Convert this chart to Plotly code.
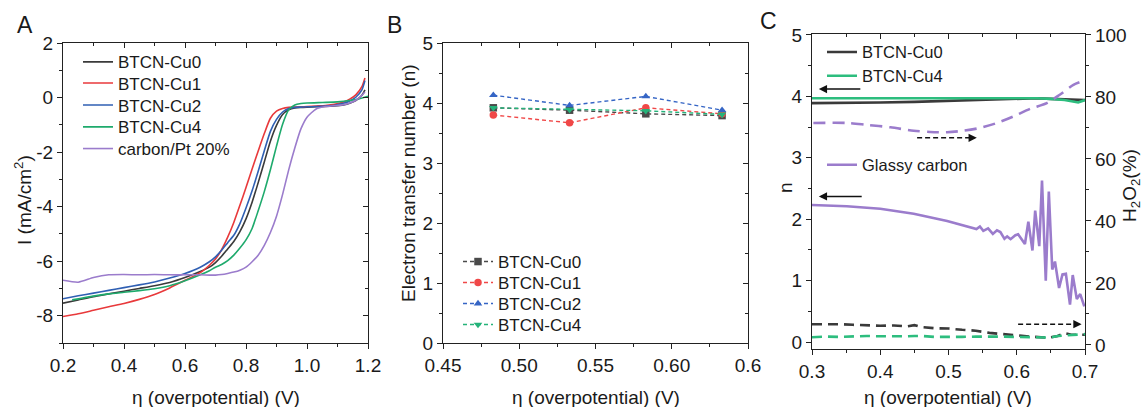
import plotly.graph_objects as go

W, H = 1143, 407
FONT = "Liberation Sans, Arial, sans-serif"
TXT = "#1a1a1a"
AX = "#222222"

# ---------------- Panel A: LSV curves ----------------
eta_A = [0.20, 0.25, 0.30, 0.35, 0.40, 0.45, 0.50, 0.55, 0.60, 0.65, 0.68, 0.70,
         0.72, 0.74, 0.76, 0.78, 0.80, 0.82, 0.84, 0.86, 0.88, 0.90, 0.92, 0.94,
         0.96, 0.98, 1.00, 1.03, 1.06, 1.09, 1.12, 1.14, 1.16, 1.18, 1.19]
I_cu0 = [-7.54, -7.42, -7.30, -7.20, -7.10, -7.00, -6.90, -6.78, -6.60, -6.38, -6.22, -6.05,
         -5.82, -5.55, -5.28, -4.92, -4.45, -3.84, -3.12, -2.36, -1.60, -1.02, -0.62, -0.45,
         -0.38, -0.36, -0.35, -0.34, -0.33, -0.31, -0.27, -0.21, -0.11, 0.08, 0.28]
I_cu1 = [-8.03, -7.93, -7.80, -7.67, -7.55, -7.40, -7.22, -6.98, -6.70, -6.42, -6.15, -5.92,
         -5.58, -5.12, -4.58, -3.95, -3.30, -2.62, -1.96, -1.32, -0.76, -0.50, -0.40, -0.36,
         -0.35, -0.34, -0.33, -0.31, -0.29, -0.25, -0.16, -0.06, 0.10, 0.40, 0.72]
I_cu2 = [-7.38, -7.27, -7.17, -7.07, -6.97, -6.87, -6.76, -6.62, -6.45, -6.22, -6.02, -5.84,
         -5.60, -5.32, -5.05, -4.62, -4.05, -3.42, -2.70, -1.95, -1.24, -0.80, -0.53, -0.40,
         -0.36, -0.35, -0.34, -0.33, -0.31, -0.28, -0.21, -0.13, 0.01, 0.28, 0.62]
I_pt = [-6.70, -6.77, -6.60, -6.50, -6.49, -6.50, -6.49, -6.50, -6.50, -6.50, -6.51, -6.51,
        -6.49, -6.45, -6.40, -6.33, -6.22, -6.02, -5.78, -5.42, -4.95, -4.35, -3.55, -2.65,
        -1.85, -1.15, -0.72, -0.42, -0.33, -0.30, -0.26, -0.20, -0.10, 0.08, 0.20]
eta_A_cu4 = [0.23, 0.30, 0.35, 0.40, 0.45, 0.50, 0.55, 0.60, 0.65, 0.68, 0.70, 0.72, 0.74,
             0.76, 0.78, 0.80, 0.82, 0.84, 0.86, 0.88, 0.90, 0.92, 0.94, 0.96, 0.98, 1.00,
             1.05, 1.10, 1.14, 1.17, 1.20]
I_cu4 = [-7.42, -7.28, -7.20, -7.14, -7.08, -7.01, -6.90, -6.72, -6.50, -6.35, -6.22, -6.12,
         -5.98, -5.78, -5.52, -5.22, -4.80, -4.15, -3.45, -2.65, -1.78, -0.98, -0.45, -0.27,
         -0.22, -0.20, -0.18, -0.16, -0.11, -0.05, 0.05]
A_yticks = [2, 0, -2, -4, -6, -8]
A_yticklabels = ["2", "0", "-2", "-4", "-6", "-8"]

# ---------------- Panel B: electron transfer number ----------------
eta_B = [0.483, 0.533, 0.583, 0.633]
nB_cu0 = [3.92, 3.88, 3.82, 3.79]
nB_cu1 = [3.80, 3.67, 3.92, 3.82]
nB_cu2 = [4.13, 3.96, 4.11, 3.88]
nB_cu4 = [3.92, 3.89, 3.87, 3.81]
B_xticks = [0.45, 0.50, 0.55, 0.60, 0.65]
B_xticklabels = ["0.45", "0.50", "0.55", "0.60", "0.6"]

# ---------------- Panel C: RRDE n and H2O2 ----------------
eta_C = [0.30, 0.35, 0.40, 0.45, 0.50, 0.55, 0.60, 0.63, 0.65, 0.67, 0.69, 0.70]
nC_cu0 = [3.89, 3.89, 3.90, 3.91, 3.93, 3.94, 3.96, 3.97, 3.96, 3.95, 3.95, 3.94]
nC_cu4 = [3.97, 3.97, 3.97, 3.97, 3.98, 3.97, 3.97, 3.97, 3.96, 3.94, 3.90, 3.94]
eta_gc = [0.300, 0.351, 0.400, 0.449, 0.498, 0.527, 0.541, 0.546, 0.551, 0.558, 0.565, 0.571,
          0.576, 0.582, 0.586, 0.591, 0.598, 0.602, 0.612, 0.617, 0.623, 0.627, 0.633, 0.637,
          0.6425, 0.647, 0.652, 0.656, 0.662, 0.667, 0.672, 0.678, 0.682, 0.688, 0.693, 0.699]
n_gc = [2.23, 2.21, 2.17, 2.09, 1.97, 1.89, 1.84, 1.88, 1.81, 1.85, 1.76, 1.82,
        1.79, 1.68, 1.72, 1.675, 1.74, 1.755, 1.595, 1.96, 1.49, 2.14, 1.56, 2.63,
        1.00, 2.45, 1.18, 1.31, 0.88, 1.10, 1.11, 0.61, 1.09, 0.70, 0.78, 0.58]
eta_gc_h = [0.302, 0.351, 0.380, 0.415, 0.449, 0.473, 0.498, 0.522, 0.546, 0.571, 0.595,
            0.620, 0.644, 0.663, 0.683, 0.698]
h2o2_gc = [71.6, 71.6, 71.0, 70.2, 69.1, 68.7, 68.6, 69.1, 70.0, 71.6, 73.7,
           76.2, 78.0, 80.7, 83.9, 85.2]
eta_C_h = [0.30, 0.32, 0.34, 0.36, 0.38, 0.40, 0.42, 0.44, 0.45, 0.46, 0.48, 0.50,
           0.52, 0.54, 0.56, 0.58, 0.60, 0.62, 0.64, 0.65, 0.66, 0.67, 0.68, 0.70]
h2o2_cu0 = [6.7, 6.8, 6.7, 6.5, 6.3, 6.2, 6.3, 6.0, 6.4, 5.8, 5.4, 5.3,
            4.9, 4.6, 3.9, 3.6, 3.1, 2.7, 2.4, 2.5, 2.9, 3.8, 3.3, 3.3]
h2o2_cu4 = [2.5, 2.7, 2.6, 2.8, 2.9, 2.8, 2.7, 2.8, 2.9, 2.9, 2.6, 2.5,
            2.6, 2.7, 2.8, 2.7, 2.6, 2.5, 2.3, 2.4, 2.9, 3.1, 3.2, 3.5]

# colours
C_BLK = "#3a3a3a"
C_RED = "#e8393b"
C_BLU = "#2f5fb3"
C_GRN = "#1eaa6c"
C_PUR = "#9b7ccc"
C_GRN_C = "#2dbd7e"
C_BLK_B = "#4a4a4a"
C_RED_B = "#f04848"
C_BLU_B = "#3565c5"
C_GRN_B = "#25b37a"

fig = go.Figure()

# ---- Panel A traces
A_series = [("BTCN-Cu0", eta_A, I_cu0, C_BLK), ("BTCN-Cu1", eta_A, I_cu1, C_RED),
            ("BTCN-Cu2", eta_A, I_cu2, C_BLU), ("BTCN-Cu4", eta_A_cu4, I_cu4, C_GRN),
            ("carbon/Pt 20%", eta_A, I_pt, C_PUR)]
for k, (nm, xs, ys, col) in enumerate(A_series):
    fig.add_trace(go.Scatter(x=xs, y=ys, name=nm, mode="lines", xaxis="x", yaxis="y",
                             line=dict(color=col, width=1.6, shape="spline", smoothing=0.6),
                             legend="legend" if k == 0 else f"legend{k + 1}"))

# ---- Panel B traces
B_series = [("BTCN-Cu0", nB_cu0, C_BLK_B, "square"), ("BTCN-Cu1", nB_cu1, C_RED_B, "circle"),
            ("BTCN-Cu2", nB_cu2, C_BLU_B, "triangle-up"), ("BTCN-Cu4", nB_cu4, C_GRN_B, "triangle-down")]
for k, (nm, ys, col, sym) in enumerate(B_series):
    fig.add_trace(go.Scatter(x=eta_B, y=ys, name=nm, mode="lines+markers", xaxis="x2", yaxis="y2",
                             line=dict(color=col, width=1.4, dash="4px,3px"),
                             marker=dict(symbol=sym, size=7.5, color=col),
                             legend=f"legend{k + 6}"))

# ---- Panel C traces
fig.add_trace(go.Scatter(x=eta_C, y=nC_cu0, name="BTCN-Cu0", mode="lines", xaxis="x3", yaxis="y3",
                         line=dict(color=C_BLK, width=2.6), legend="legend10"))
fig.add_trace(go.Scatter(x=eta_C, y=nC_cu4, name="BTCN-Cu4", mode="lines", xaxis="x3", yaxis="y3",
                         line=dict(color=C_GRN_C, width=2.6), legend="legend11"))
fig.add_trace(go.Scatter(x=eta_gc, y=n_gc, name="Glassy carbon", mode="lines", xaxis="x3", yaxis="y3",
                         line=dict(color=C_PUR, width=2.6), legend="legend12"))
fig.add_trace(go.Scatter(x=eta_gc_h, y=h2o2_gc, mode="lines", xaxis="x3", yaxis="y6", showlegend=False,
                         line=dict(color=C_PUR, width=2.6, dash="12px,7px", shape="spline", smoothing=0.8)))
fig.add_trace(go.Scatter(x=eta_C_h, y=h2o2_cu0, mode="lines", xaxis="x3", yaxis="y6", showlegend=False,
                         line=dict(color=C_BLK, width=2.6, dash="10px,6px")))
fig.add_trace(go.Scatter(x=eta_C_h, y=h2o2_cu4, mode="lines", xaxis="x3", yaxis="y6", showlegend=False,
                         line=dict(color=C_GRN_C, width=2.6, dash="10px,6px")))

# dummy traces on the overlay (mirror-tick) axes
for xa, ya in [("x4", "y4"), ("x5", "y5"), ("x7", "y6")]:
    fig.add_trace(go.Scatter(x=[], y=[], xaxis=xa, yaxis=ya, showlegend=False, hoverinfo="skip"))

# ---------------- layout helpers ----------------
def px_x(p):
    return p / W

def px_y(p):
    return 1 - p / H

A_dom_x = [px_x(63), px_x(368)]
B_dom_x = [px_x(443), px_x(748)]
C_dom_x = [px_x(812), px_x(1085)]
AB_dom_y = [px_y(343), px_y(43)]
C_dom_y = [px_y(349), px_y(34)]

def main_axis(domain, rng, anchor, dtick=None, mdtick=None, tick0=None, tickvals=None, ticktext=None,
              tickformat=None, side=None, overlaying=None, mirror=True):
    d = dict(domain=domain, range=rng, anchor=anchor, showline=True, linecolor=AX, linewidth=1.2,
             mirror=mirror, ticks="outside", ticklen=5, tickwidth=1.2, tickcolor=AX, automargin=False,
             showgrid=False, zeroline=False, tickfont=dict(family=FONT, size=19, color=TXT),
             minor=dict(ticks="outside", ticklen=3, tickwidth=1.1, tickcolor=AX, dtick=mdtick,
                        tick0=tick0 if tick0 is not None else rng[0], tickmode="linear"))
    if tickvals is not None:
        d.update(tickmode="array", tickvals=tickvals, ticktext=ticktext)
    else:
        d.update(tickmode="linear", dtick=dtick, tick0=tick0 if tick0 is not None else rng[0])
    if tickformat:
        d["tickformat"] = tickformat
    if side:
        d["side"] = side
    if overlaying:
        d["overlaying"] = overlaying
    return d

def mirror_axis(rng, anchor, overlaying, side, dtick, mdtick, tick0):
    return dict(range=rng, anchor=anchor, overlaying=overlaying, side=side, showline=False,
                ticks="inside", ticklen=5, tickwidth=1.2, tickcolor=AX, showticklabels=False,
                showgrid=False, zeroline=False, tickmode="linear", dtick=dtick, tick0=tick0,
                automargin=False,
                minor=dict(ticks="inside", ticklen=3, tickwidth=1.1, tickcolor=AX, dtick=mdtick,
                           tick0=tick0, tickmode="linear"))

A_xr, A_yr = [0.2, 1.2], [-9, 2]
B_xr, B_yr = [0.45, 0.65], [0, 5]
C_xr, C_yr, C_y2r = [0.3, 0.7], [-0.114, 5.016], [-1.3, 100.3]

layout = dict(
    template="none",
    width=W, height=H, margin=dict(l=0, r=0, t=0, b=0, pad=0, autoexpand=False), autosize=False,
    paper_bgcolor="white", plot_bgcolor="white",
    font=dict(family=FONT, color=TXT),
    xaxis=main_axis(A_dom_x, A_xr, "y", dtick=0.2, mdtick=0.1, tick0=0.2, tickformat=".1f"),
    yaxis=main_axis(AB_dom_y, A_yr, "x", mdtick=1, tick0=0, tickvals=A_yticks, ticktext=A_yticklabels),
    xaxis2=main_axis(B_dom_x, B_xr, "y2", mdtick=0.025, tick0=0.45, tickvals=B_xticks, ticktext=B_xticklabels),
    yaxis2=main_axis(AB_dom_y, B_yr, "x2", dtick=1, mdtick=0.5, tick0=0),
    xaxis3=main_axis(C_dom_x, C_xr, "y3", dtick=0.1, mdtick=0.05, tick0=0.3, tickformat=".1f"),
    yaxis3=main_axis(C_dom_y, C_yr, "x3", dtick=1, mdtick=0.5, tick0=0),
    yaxis6=main_axis(C_dom_y, C_y2r, "x3", dtick=20, mdtick=10, tick0=0, side="right", overlaying="y3",
                     mirror=False),
    xaxis4=mirror_axis(A_xr, "y", "x", "top", 0.2, 0.1, 0.2),
    yaxis4=mirror_axis(A_yr, "x", "y", "right", 2, 1, 0),
    xaxis5=mirror_axis(B_xr, "y2", "x2", "top", 0.05, 0.025, 0.45),
    yaxis5=mirror_axis(B_yr, "x2", "y2", "right", 1, 0.5, 0),
    xaxis7=mirror_axis(C_xr, "y6", "x3", "top", 0.1, 0.05, 0.3),
)

# legends: one per entry so that each row sits where the reference puts it
def legend_at(text_x, center_y, size):
    return dict(x=px_x(text_x - 40), y=px_y(center_y), xanchor="left", yanchor="middle",
                bgcolor="rgba(0,0,0,0)", borderwidth=0, font=dict(family=FONT, size=size, color=TXT),
                tracegroupgap=0)

A_leg_y = [62.3, 83.5, 105.5, 127.3, 149]
for k, yy in enumerate(A_leg_y):
    key = "legend" if k == 0 else f"legend{k + 1}"
    layout[key] = legend_at(118, yy, 17)
B_leg_y = [262, 283, 304, 325]
for k, yy in enumerate(B_leg_y):
    layout[f"legend{k + 6}"] = legend_at(498, yy, 17)
layout["legend10"] = legend_at(862, 52.3, 16.5)
layout["legend11"] = legend_at(862, 76, 16.5)
layout["legend12"] = legend_at(862, 165, 16.5)

fig.update_layout(**layout)

# ---------------- annotations ----------------
def text_ann(txt, x, y, size=19, angle=0):
    fig.add_annotation(text=txt, x=px_x(x), y=px_y(y), xref="paper", yref="paper", showarrow=False,
                       xanchor="center", yanchor="middle", textangle=angle,
                       font=dict(family=FONT, size=size, color=TXT))

text_ann("A", 25, 25, 23)
text_ann("B", 394, 25, 23)
text_ann("C", 768, 21, 23)
text_ann("η (overpotential) (V)", 215.5, 397)
text_ann("η (overpotential) (V)", 595.5, 397)
text_ann("η (overpotential) (V)", 948.5, 397)
text_ann("I (mA/cm<sup>2</sup>)", 23, 200, angle=-90)
text_ann("Electron transfer number (n)", 408, 183, angle=-90)
text_ann("n", 785, 188, angle=-90)
text_ann("H<sub>2</sub>O<sub>2</sub>(%)", 1131, 186, angle=-90)

# arrows in panel C
def arrow(x_head, x_tail, y, yref, dashed=False):
    if dashed:
        fig.add_shape(type="line", x0=x_tail, x1=x_head - 0.006, y0=y, y1=y, xref="x3", yref=yref,
                      line=dict(color="#111", width=1.5, dash="5px,3px"))
        tail = x_head - 0.008
    else:
        tail = x_tail
    fig.add_annotation(x=x_head, y=y, ax=tail, ay=y, xref="x3", yref=yref, axref="x3", ayref=yref,
                       text="", showarrow=True, arrowhead=2, arrowsize=1.1, arrowwidth=1.5,
                       arrowcolor="#111", standoff=0, startstandoff=0)

arrow(0.31, 0.373, 4.12, "y3")
arrow(0.31, 0.375, 2.37, "y3")
arrow(0.5415, 0.454, 66.8, "y6", dashed=True)
arrow(0.695, 0.602, 6.7, "y6", dashed=True)

fig.write_html("out.html", config={"displayModeBar": False},
               post_script="document.body.style.margin='0';document.body.style.overflow='hidden';")
